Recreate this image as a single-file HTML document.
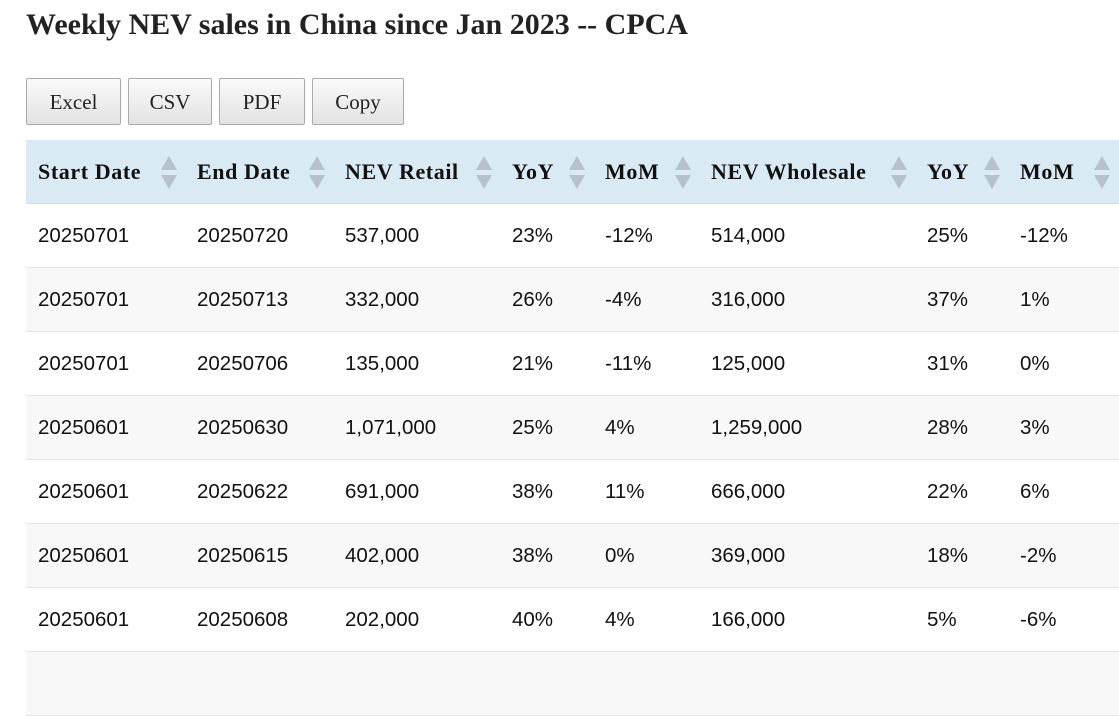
<!DOCTYPE html>
<html><head><style>
body{margin:0;background:#fff;width:1119px;height:660px;overflow:hidden;position:relative;font-family:"Liberation Sans",sans-serif;}
h1{position:absolute;left:26px;top:8px;margin:0;font:bold 30px "Liberation Serif",serif;color:#222;letter-spacing:0px}
.btn{position:absolute;top:78px;height:45px;border:1px solid #aaa;border-radius:2px;background:linear-gradient(#fafafa,#e2e2e2);font:21px "Liberation Serif",serif;color:#222;text-align:center;line-height:47px;box-sizing:content-box}
table{position:absolute;left:26px;top:140px;border-collapse:collapse;table-layout:fixed;width:1110px}
th{background:#daeaf5;height:63px;text-align:left;padding:0 0 0 12px;font:bold 22px "Liberation Serif",serif;letter-spacing:0.6px;color:#111;position:relative;border-bottom:1px solid #cfdde6;white-space:nowrap}
td{height:63px;padding:0 0 0 12px;font-size:20.5px;color:#111;border-bottom:1px solid #e3e3e3}
tr:nth-child(odd) td{background:#f8f8f8}
.s{position:absolute;right:8px;top:16px;width:16px;height:34px}
.s:before{content:"";position:absolute;left:0;top:0;border-left:8px solid transparent;border-right:8px solid transparent;border-bottom:14px solid #b5c2cb}
.s:after{content:"";position:absolute;left:0;top:19px;border-left:8px solid transparent;border-right:8px solid transparent;border-top:14px solid #b5c2cb}
</style></head><body>
<h1>Weekly NEV sales in China since Jan 2023 -- CPCA</h1>
<div class="btn" style="left:26px;width:93px">Excel</div>
<div class="btn" style="left:128px;width:82px">CSV</div>
<div class="btn" style="left:219px;width:84px">PDF</div>
<div class="btn" style="left:312px;width:90px">Copy</div>
<table>
<colgroup><col style="width:159px"><col style="width:148px"><col style="width:167px"><col style="width:93px"><col style="width:106px"><col style="width:216px"><col style="width:93px"><col style="width:128px"></colgroup>
<tr><th>Start Date<span class="s"></span></th><th>End Date<span class="s"></span></th><th>NEV Retail<span class="s"></span></th><th>YoY<span class="s"></span></th><th>MoM<span class="s"></span></th><th>NEV Wholesale<span class="s"></span></th><th>YoY<span class="s"></span></th><th>MoM<span class="s" style="right:26px"></span></th></tr>
<tr><td>20250701</td><td>20250720</td><td>537,000</td><td>23%</td><td>-12%</td><td>514,000</td><td>25%</td><td>-12%</td></tr>
<tr><td>20250701</td><td>20250713</td><td>332,000</td><td>26%</td><td>-4%</td><td>316,000</td><td>37%</td><td>1%</td></tr>
<tr><td>20250701</td><td>20250706</td><td>135,000</td><td>21%</td><td>-11%</td><td>125,000</td><td>31%</td><td>0%</td></tr>
<tr><td>20250601</td><td>20250630</td><td>1,071,000</td><td>25%</td><td>4%</td><td>1,259,000</td><td>28%</td><td>3%</td></tr>
<tr><td>20250601</td><td>20250622</td><td>691,000</td><td>38%</td><td>11%</td><td>666,000</td><td>22%</td><td>6%</td></tr>
<tr><td>20250601</td><td>20250615</td><td>402,000</td><td>38%</td><td>0%</td><td>369,000</td><td>18%</td><td>-2%</td></tr>
<tr><td>20250601</td><td>20250608</td><td>202,000</td><td>40%</td><td>4%</td><td>166,000</td><td>5%</td><td>-6%</td></tr>
<tr><td>&nbsp;</td><td></td><td></td><td></td><td></td><td></td><td></td><td></td></tr>
</table>
</body></html>
